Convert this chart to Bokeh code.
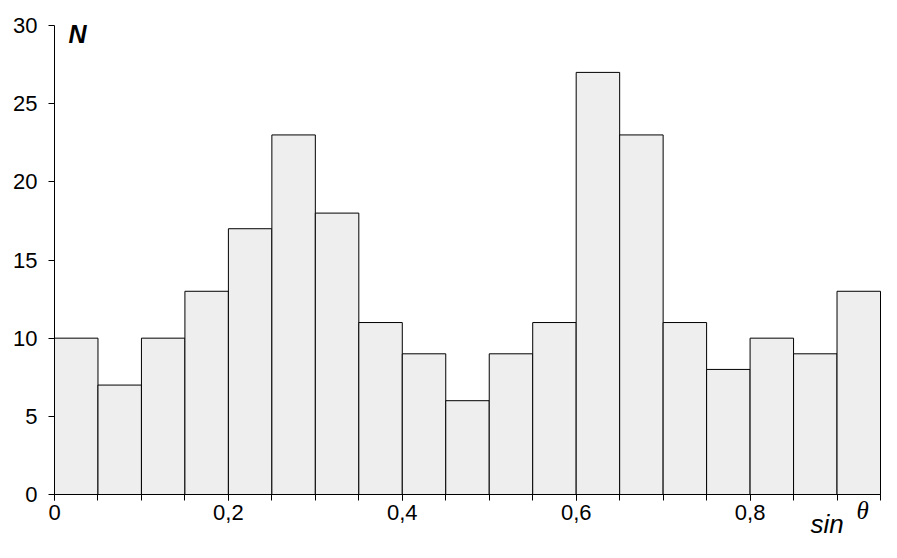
from bokeh.plotting import figure
from bokeh.models import Range1d, FixedTicker, Label
from bokeh.embed import file_html
from bokeh.resources import INLINE

# Data
bin_edges = [0.0, 0.05, 0.10, 0.15, 0.20, 0.25, 0.30, 0.35, 0.40, 0.45,
             0.50, 0.55, 0.60, 0.65, 0.70, 0.75, 0.80, 0.85, 0.90, 0.95]
counts = [10, 7, 10, 13, 17, 23, 18, 11, 9, 6, 9, 11, 27, 23, 11, 8, 10, 9, 13]
x_tick_values = [0.0, 0.2, 0.4, 0.6, 0.8]
x_tick_labels = ["0", "0,2", "0,4", "0,6", "0,8"]
y_tick_values = [0, 5, 10, 15, 20, 25, 30]

FONT = "Liberation Sans"
W, H = 897, 558
# pixel layout of the axes box inside the canvas
LEFT, RIGHT, TOP, BOTTOM = 54, 880, 25, 494
x_min, x_max = bin_edges[0], bin_edges[-1]
y_min, y_max = y_tick_values[0], y_tick_values[-1]
kx = (RIGHT - LEFT) / (x_max - x_min)
ky = (BOTTOM - TOP) / (y_max - y_min)

p = figure(width=W, height=H, output_backend="svg", toolbar_location=None,
           x_range=Range1d(x_min - LEFT / kx, x_max + (W - RIGHT) / kx),
           y_range=Range1d(y_min - (H - BOTTOM) / ky, y_max + TOP / ky),
           min_border=0)
p.outline_line_color = None
p.xgrid.visible = False
p.ygrid.visible = False
p.background_fill_color = "white"
p.border_fill_color = "white"

p.quad(left=bin_edges[:-1], right=bin_edges[1:], bottom=0, top=counts,
       fill_color="#eeeeee", line_color="black", line_width=1)

# X axis
xa = p.xaxis[0]
xa.fixed_location = y_min
xa.bounds = (x_min, x_max)
xa.ticker = FixedTicker(ticks=x_tick_values, minor_ticks=bin_edges)
xa.major_label_overrides = {v: l for v, l in zip(x_tick_values, x_tick_labels)}
xa.axis_line_color = "black"
xa.major_tick_line_color = "black"
xa.minor_tick_line_color = "black"
xa.major_tick_out = 6
xa.major_tick_in = 0
xa.minor_tick_out = 6
xa.minor_tick_in = 0
xa.major_label_text_font = FONT
xa.major_label_text_font_size = "22px"
xa.major_label_text_color = "black"
xa.major_label_standoff = 4

# Y axis
ya = p.yaxis[0]
ya.fixed_location = x_min
ya.bounds = (y_min, y_max)
ya.ticker = FixedTicker(ticks=y_tick_values, minor_ticks=[])
ya.axis_line_color = "black"
ya.major_tick_line_color = "black"
ya.major_tick_out = 6
ya.major_tick_in = 0
ya.minor_tick_line_color = None
ya.major_label_text_font = FONT
ya.major_label_text_font_size = "22px"
ya.major_label_text_color = "black"
ya.major_label_standoff = 11

# Axis titles
p.add_layout(Label(x=x_min + 14 / kx, y=y_max - 8 / ky, text="N",
                   text_font=FONT, text_font_size="25px", text_baseline="alphabetic",
                   text_font_style="bold italic", text_color="black"))
p.add_layout(Label(x=x_min + 756 / kx, y=y_min - 29 / ky, text="sin",
                   text_font=FONT, text_font_size="26px", text_baseline="alphabetic",
                   text_font_style="italic", text_color="black"))
p.add_layout(Label(x=x_min + 802 / kx, y=y_min - 16 / ky, text="θ",
                   text_font="Liberation Serif", text_font_size="25px", text_baseline="alphabetic",
                   text_font_style="italic", text_color="black"))

open("out.html", "w").write(file_html(p, INLINE))
